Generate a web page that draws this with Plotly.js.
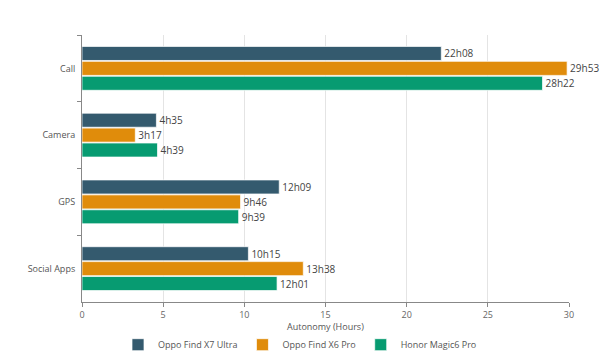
<!DOCTYPE html>
<html>
<head>
<meta charset="utf-8">
<script src="https://cdn.plot.ly/plotly-3.0.1.min.js"></script>
<style>html,body{margin:0;padding:0;background:#fff;}#chart{width:600px;height:351px;}</style>
</head>
<body>
<div id="chart"></div>
<script>
const categories = ["Call", "Camera", "GPS", "Social Apps"];
const seriesNames = ["Oppo Find X7 Ultra", "Oppo Find X6 Pro", "Honor Magic6 Pro"];
const x7UltraLabels = ["22h08", "4h35", "12h09", "10h15"];
const x6ProLabels = ["29h53", "3h17", "9h46", "13h38"];
const magic6ProLabels = ["28h22", "4h39", "9h39", "12h01"];
const colors = ["#345a6e", "#e08c0b", "#079b71"];
const xTicks = [0, 5, 10, 15, 20, 25, 30];
const xTitle = "Autonomy (Hours)";

function toHours(s) { const p = s.split("h"); return Number(p[0]) + Number(p[1]) / 60; }

const labelSets = [x7UltraLabels, x6ProLabels, magic6ProLabels];
const traces = labelSets.map((labels, i) => ({
  type: "bar",
  orientation: "h",
  name: seriesNames[i],
  y: categories,
  x: labels.map(toHours),
  text: labels,
  textposition: "outside",
  cliponaxis: false,
  textfont: { family: "Open Sans, sans-serif", size: 10, color: "#444" },
  marker: { color: colors[i], line: { color: "rgba(255,255,255,0.7)", width: 1 } },
  hoverinfo: "none"
}));

const layout = {
  width: 600, height: 351,
  margin: { l: 82, r: 31, t: 35, b: 49 },
  barmode: "group",
  bargap: 0.33,
  bargroupgap: 0.06,
  font: { family: "Open Sans, sans-serif", size: 9, color: "#555" },
  paper_bgcolor: "#fff", plot_bgcolor: "#fff",
  xaxis: {
    range: [0, 30], tickvals: xTicks, ticktext: xTicks.map(String),
    showgrid: true, gridcolor: "#e4e4e4", gridwidth: 1,
    showline: true, linecolor: "#888", linewidth: 1,
    ticks: "outside", ticklen: 4, tickcolor: "#888",
    zeroline: false, automargin: false,
    tickfont: { size: 9, color: "#666" }
  },
  yaxis: {
    type: "category", autorange: "reversed", automargin: false,
    showline: true, linecolor: "#888", linewidth: 1,
    ticks: "outside", ticklen: 4, tickcolor: "#888", tickson: "boundaries",
    showgrid: false, ticklabelstandoff: 4,
    tickfont: { size: 9, color: "#555" }
  },
  annotations: [{
    text: xTitle, xref: "paper", yref: "paper", x: 0.5, y: -0.09,
    xanchor: "center", yanchor: "middle", showarrow: false,
    font: { size: 9, color: "#555" }
  }],
  showlegend: true,
  legend: {
    orientation: "h", x: 0.5, xanchor: "center", xref: "container",
    y: 0.018, yanchor: "middle", yref: "container",
    font: { size: 9, color: "#555" }, itemwidth: 30, traceorder: "normal"
  }
};

Plotly.newPlot("chart", traces, layout, { displayModeBar: false, staticPlot: true });
</script>
</body>
</html>
